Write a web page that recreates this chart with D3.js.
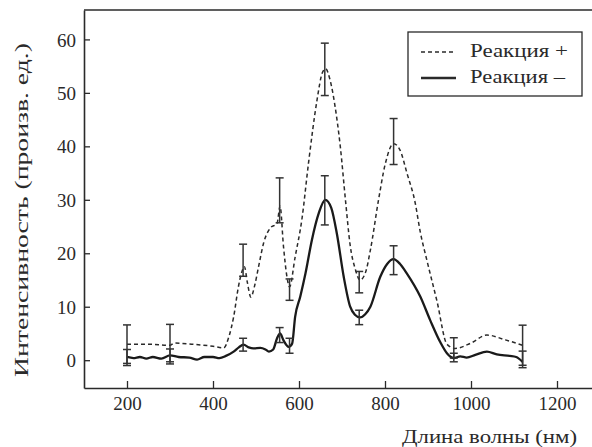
<!DOCTYPE html>
<html>
<head>
<meta charset="utf-8">
<script src="https://cdn.jsdelivr.net/npm/d3@7"></script>
</head>
<body style="margin:0">
<script>
// Реакция + (dashed), [wavelength, intensity]
const plusCurve = [
  [200, 3.0], [250, 3.0], [300, 2.8], [310, 3.2], [350, 3.0], [400, 2.6], [425, 2.3],
  [437, 4.4], [448, 8.1], [459, 13.7], [467, 16.5], [473, 17.5], [480, 14.5], [488, 11.8],
  [497, 14.0], [506, 17.5], [518, 22.0], [533, 24.7], [549, 25.6], [556, 28.8], [564, 21.2],
  [572, 15.6], [578, 13.7], [591, 19.3], [607, 26.5], [622, 36.8], [642, 48.7], [654, 53.7],
  [662, 54.5], [672, 52.5], [684, 47.4], [696, 40.0], [708, 30.0], [719, 21.5], [731, 17.0],
  [742, 15.0], [755, 16.5], [766, 20.6], [785, 30.0], [800, 36.5], [820, 40.5], [835, 39.3],
  [851, 35.0], [870, 29.5], [882, 24.0], [898, 18.5], [921, 11.0], [944, 3.0], [963, 2.2],
  [1000, 3.2], [1037, 4.7], [1080, 3.8], [1120, 2.8]
];

// Реакция – (solid)
const minusCurve = [
  [200, 0.6], [215, 0.4], [230, 0.6], [245, 0.3], [260, 0.6], [280, 0.3], [300, 0.9],
  [320, 0.6], [345, 0.5], [363, 0.1], [380, 0.6], [400, 0.6], [415, 0.4], [430, 0.8],
  [448, 1.6], [460, 2.4], [471, 2.9], [483, 2.4], [494, 2.2], [510, 2.3], [522, 2.0],
  [530, 1.6], [540, 2.0], [549, 4.1], [556, 5.0], [564, 3.7], [576, 2.5], [584, 3.1],
  [591, 8.1], [603, 11.9], [615, 16.2], [630, 22.5], [646, 27.5], [661, 30.0], [675, 28.5],
  [688, 23.7], [704, 15.6], [719, 10.0], [730, 8.5], [742, 8.0], [754, 8.6], [766, 10.0],
  [789, 15.6], [805, 18.0], [820, 18.9], [835, 18.0], [851, 16.2], [882, 11.9], [905, 7.5],
  [929, 3.3], [944, 1.3], [960, 0.4], [975, 0.7], [990, 0.5], [1010, 1.0], [1037, 1.6],
  [1060, 1.1], [1090, 0.8], [1105, 0.6], [1120, -0.3]
];

// error bars
const errX = [200, 300, 470, 555, 578, 660, 740, 820, 960, 1120];
const plusMean = [3.0, 3.0, 18.7, 29.9, 13.2, 54.4, 14.6, 40.9, 2.3, 2.8];
const plusErr = [3.6, 3.7, 3.0, 4.2, 2.0, 4.9, 2.0, 4.3, 1.9, 3.75];
const minusMean = [0.5, 0.9, 2.9, 4.7, 2.7, 29.9, 8.0, 18.7, 0.5, 0.15];
const minusErr = [1.5, 1.2, 1.2, 1.4, 1.4, 4.6, 1.35, 2.7, 0.8, 1.55];

const xTicks = [200, 400, 600, 800, 1000, 1200];
const yTicks = [0, 10, 20, 30, 40, 50, 60];

const legendLabels = ["Реакция +", "Реакция –"];
const xTitle = "Длина волны (нм)";
const yTitle = "Интенсивность (произв. ед.)";

const ink = "#2a2a2a";
const serif = '"Liberation Serif"';

let dimensions = {
  width: 592,
  height: 447,
  margins: { top: 10, right: 0, bottom: 59, left: 84 },
};
dimensions.boundedHeight = dimensions.height - dimensions.margins.top - dimensions.margins.bottom;

const wrapper = d3.select("body")
  .append("svg")
  .attr("width", dimensions.width)
  .attr("height", dimensions.height)
  .attr("font-family", "Liberation Serif");

const xScale = d3.scaleLinear()
  .domain([100, 1300])
  .range([dimensions.margins.left, dimensions.margins.left + 516]);
const yScale = d3.scaleLinear()
  .domain([-5.2, 65.5])
  .range([dimensions.margins.top + dimensions.boundedHeight, dimensions.margins.top]);

const bottomY = yScale.range()[0];
const topY = yScale.range()[1];
const leftX = dimensions.margins.left;

// axes (ticks point inward)
const xAxis = wrapper.append("g")
  .attr("transform", `translate(0,${bottomY})`)
  .call(d3.axisBottom(xScale).tickValues(xTicks).tickFormat(d3.format("d"))
    .tickSizeInner(-7).tickSizeOuter(0).tickPadding(9));
const yAxis = wrapper.append("g")
  .attr("transform", `translate(${leftX},0)`)
  .call(d3.axisLeft(yScale).tickValues(yTicks).tickFormat(d3.format("d"))
    .tickSizeInner(-6).tickSizeOuter(0).tickPadding(8));

[xAxis, yAxis].forEach(ax => {
  ax.attr("font-family", "Liberation Serif").attr("font-size", 19);
  ax.select(".domain").attr("stroke", ink).attr("stroke-width", 1.6);
  ax.selectAll(".tick line").attr("stroke", ink).attr("stroke-width", 1.3);
  ax.selectAll(".tick text")
    .attr("fill", ink)
    .style("font-family", serif)
    .style("font-size", "19px");
});
yAxis.selectAll(".tick text").attr("dy", "0.35em");

// top border of the frame
wrapper.append("line")
  .attr("x1", leftX).attr("x2", dimensions.width)
  .attr("y1", topY).attr("y2", topY)
  .attr("stroke", ink).attr("stroke-width", 1.6);

// curves
const lineGenerator = d3.line()
  .x(d => xScale(d[0]))
  .y(d => yScale(d[1]))
  .curve(d3.curveMonotoneX);

wrapper.append("path")
  .attr("d", lineGenerator(plusCurve))
  .attr("fill", "none")
  .attr("stroke", ink)
  .attr("stroke-width", 1.5)
  .attr("stroke-dasharray", "4,3");

wrapper.append("path")
  .attr("d", lineGenerator(minusCurve))
  .attr("fill", "none")
  .attr("stroke", "#1a1a1a")
  .attr("stroke-width", 2.3)
  .attr("stroke-linejoin", "round");

// error bars
const drawErrors = (means, errs) => {
  const rows = errX.map((x, i) => ({ x, lo: means[i] - errs[i], hi: means[i] + errs[i] }));
  const g = wrapper.append("g").attr("stroke", "#333").attr("stroke-width", 1.5);
  g.selectAll("line.v").data(rows).join("line")
    .attr("x1", d => xScale(d.x)).attr("x2", d => xScale(d.x))
    .attr("y1", d => yScale(d.lo)).attr("y2", d => yScale(d.hi));
  ["lo", "hi"].forEach(k => {
    g.selectAll(`line.${k}`).data(rows).join("line")
      .attr("class", k)
      .attr("x1", d => xScale(d.x) - 4).attr("x2", d => xScale(d.x) + 4)
      .attr("y1", d => yScale(d[k])).attr("y2", d => yScale(d[k]));
  });
};
drawErrors(plusMean, plusErr);
drawErrors(minusMean, minusErr);

// legend
const legend = wrapper.append("g");
legend.append("rect")
  .attr("x", 408).attr("y", 32).attr("width", 174).attr("height", 64)
  .attr("fill", "#fff").attr("stroke", ink).attr("stroke-width", 1.3);
const legendRows = legend.selectAll("g.row").data(legendLabels).join("g")
  .attr("transform", (d, i) => `translate(0,${52 + i * 26})`);
legendRows.append("line")
  .attr("x1", 421).attr("x2", 456).attr("y1", 0).attr("y2", 0)
  .attr("stroke", ink)
  .attr("stroke-width", (d, i) => i === 0 ? 1.5 : 2.3)
  .attr("stroke-dasharray", (d, i) => i === 0 ? "4,3" : null);
legendRows.append("text")
  .attr("x", 470).attr("y", 5)
  .attr("fill", ink)
  .attr("textLength", (d, i) => i === 0 ? 98 : 95)
  .attr("lengthAdjust", "spacingAndGlyphs")
  .style("font-family", serif)
  .style("font-size", "19px")
  .text(d => d);

// axis titles
wrapper.append("text")
  .attr("x", 577).attr("y", 443)
  .attr("text-anchor", "end")
  .attr("fill", ink)
  .attr("textLength", 175)
  .attr("lengthAdjust", "spacingAndGlyphs")
  .style("font-family", serif)
  .style("font-size", "19px")
  .text(xTitle);

wrapper.append("text")
  .attr("transform", `translate(28,210) rotate(-90)`)
  .attr("text-anchor", "middle")
  .attr("fill", ink)
  .attr("textLength", 334)
  .attr("lengthAdjust", "spacingAndGlyphs")
  .style("font-family", serif)
  .style("font-size", "19px")
  .text(yTitle);
</script>
</body>
</html>
